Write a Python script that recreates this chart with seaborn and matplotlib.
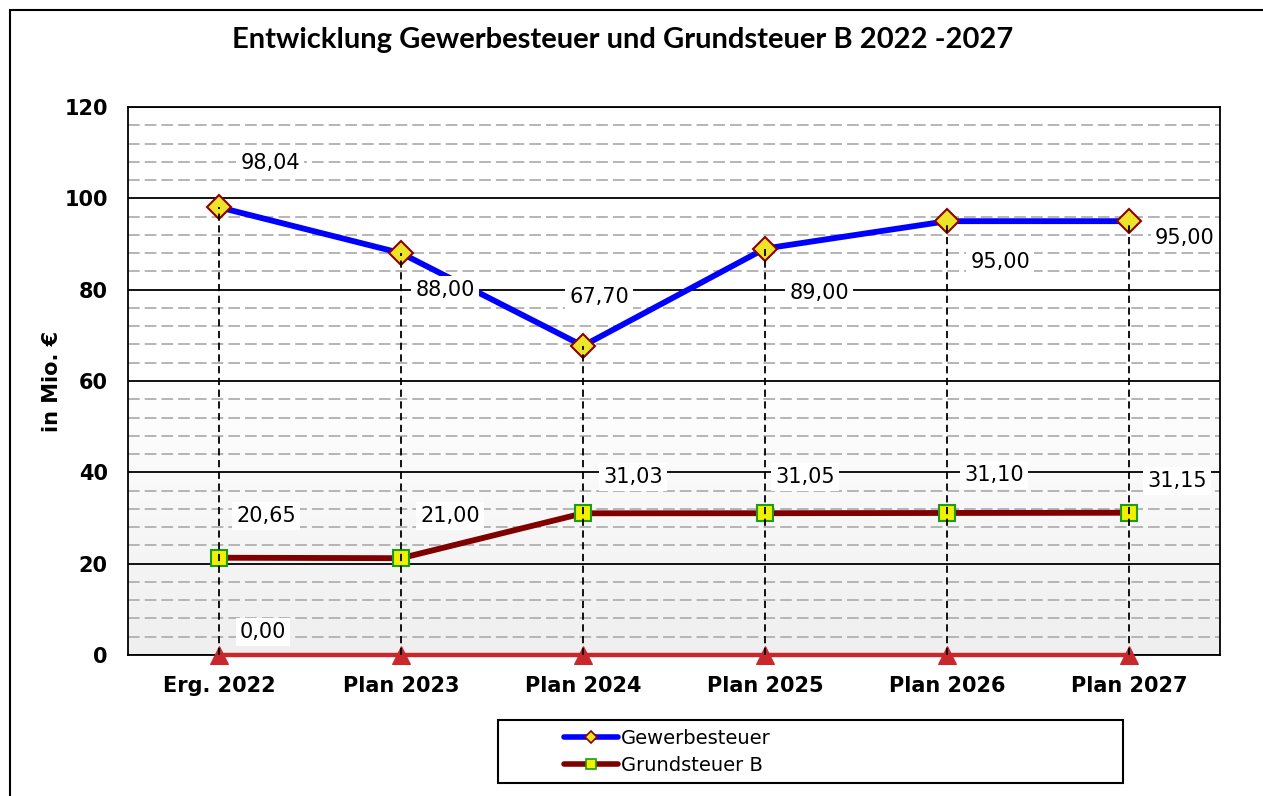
import numpy as np
import pandas as pd
import matplotlib
matplotlib.use("Agg")
import matplotlib.pyplot as plt
from matplotlib.lines import Line2D
from matplotlib.patches import Rectangle
from matplotlib.ticker import MultipleLocator
import seaborn as sns

# data
categories = ["Erg. 2022", "Plan 2023", "Plan 2024", "Plan 2025", "Plan 2026", "Plan 2027"]
gewerbesteuer = [98.04, 88.00, 67.70, 89.00, 95.00, 95.00]
grundsteuer_b = [21.30, 21.20, 31.03, 31.05, 31.10, 31.15]
grundsteuer_labels = ["20,65", "21,00", "31,03", "31,05", "31,10", "31,15"]
gewerbe_labels = ["98,04", "88,00", "67,70", "89,00", "95,00", "95,00"]
nullreihe = [0, 0, 0, 0, 0, 0]

df = pd.DataFrame({"Jahr": categories, "Gewerbesteuer": gewerbesteuer,
                   "Grundsteuer B": grundsteuer_b, "Null": nullreihe})

sns.set_style("white")
plt.rcParams["font.family"] = ["DejaVu Sans"]
plt.rcParams["text.color"] = "black"
plt.rcParams["xtick.color"] = "black"
plt.rcParams["ytick.color"] = "black"
plt.rcParams["axes.labelcolor"] = "black"

fig = plt.figure(figsize=(12.63, 7.96), dpi=100)
ax = fig.add_axes([128 / 1263, 1 - 655 / 796, 1092 / 1263, 548 / 796])

# background gradient of the plot area (white on top, light grey at the bottom)
grad = np.linspace(0, 1, 256).reshape(-1, 1)
cmap = matplotlib.colors.LinearSegmentedColormap.from_list("bg", ["#ffffff", "#ffffff", "#efefef"])
ax.imshow(grad, aspect="auto", cmap=cmap, extent=(-0.5, 5.5, 0, 120), origin="upper", zorder=0)

ax.set_xlim(-0.5, 5.5)
ax.set_ylim(0, 120)

# grid
ax.yaxis.set_major_locator(MultipleLocator(20))
ax.yaxis.set_minor_locator(MultipleLocator(4))
ax.grid(which="major", axis="y", color="black", linewidth=1.3, zorder=1)
ax.grid(which="minor", axis="y", color="#b5b5b5", linewidth=1.4, linestyle=(0, (6, 2.6)), zorder=1)
ax.set_axisbelow(True)

# drop lines
tops = [max(a, b) for a, b in zip(gewerbesteuer, grundsteuer_b)]
ax.vlines(range(len(categories)), 0, tops, colors="black", linestyles=(0, (4, 2.5)),
          linewidth=1.3, zorder=6)

sns.lineplot(data=df, x="Jahr", y="Null", ax=ax, color="#c8282c", linewidth=3.2,
             marker="^", markersize=13, markeredgecolor="#c8282c", clip_on=False, zorder=3)
sns.lineplot(data=df, x="Jahr", y="Gewerbesteuer", ax=ax, color="#0000ff", linewidth=4.2,
             marker="D", markersize=12, markerfacecolor="#ece428", markeredgecolor="#8b0000",
             markeredgewidth=1.5, zorder=4)
sns.lineplot(data=df, x="Jahr", y="Grundsteuer B", ax=ax, color="#800000", linewidth=4.2,
             marker="s", markersize=11, markerfacecolor="#f0f000", markeredgecolor="#1c9a1c",
             markeredgewidth=1.5, zorder=4)

# data labels (offsets in pixels)
box = dict(facecolor="white", edgecolor="none", pad=3)
gew_off = [(51, 44), (44, -37), (16, 49), (54, -44), (53, -41), (56, -17)]
grd_off = [(47, 42), (49, 42), (50, 36), (40, 36), (47, 38), (48, 32)]
for i, (v, t) in enumerate(zip(gewerbesteuer, gewerbe_labels)):
    ax.annotate(t, (i, v), xytext=gew_off[i], textcoords="offset pixels", ha="center",
                va="center", fontsize=15, bbox=box, zorder=7, annotation_clip=False)
for i, (v, t) in enumerate(zip(grundsteuer_b, grundsteuer_labels)):
    ax.annotate(t, (i, v), xytext=grd_off[i], textcoords="offset pixels", ha="center",
                va="center", fontsize=15, bbox=box, zorder=7, annotation_clip=False)
ax.annotate("0,00", (0, nullreihe[0]), xytext=(44, 23), textcoords="offset pixels",
            ha="center", va="center", fontsize=15, bbox=box, zorder=7)

# axes, ticks
ax.set_xticks(range(len(categories)))
ax.set_xticklabels(categories, fontsize=15, fontweight="bold")
ax.set_xticks(np.arange(-0.5, 6, 1), minor=True)
ax.tick_params(axis="x", which="major", length=0, pad=15)
ax.tick_params(axis="x", which="minor", length=6, width=1.3, color="black", direction="out")
ax.tick_params(axis="y", which="major", length=7.5, width=1.3, color="black", labelsize=15, pad=7)
ax.tick_params(axis="y", which="minor", length=0)
for lab in ax.get_yticklabels():
    lab.set_fontweight("bold")
ax.set_xlabel("")
ax.set_ylabel("in Mio. €", fontsize=15, fontweight="bold", labelpad=2)
for s in ax.spines.values():
    s.set_color("black")
    s.set_linewidth(1.3)
    s.set_visible(True)

fig.text(623 / 1263, 1 - 40 / 796, "Entwicklung Gewerbesteuer und Grundsteuer B 2022 -2027",
         ha="center", va="center", fontsize=21, fontweight="bold", family="Lato")

# outer chart frame
fig.patches.append(Rectangle((10 / 1263, -0.1), 1.2, 1 - 10 / 796 + 0.1, transform=fig.transFigure,
                             fill=False, edgecolor="black", linewidth=1.5))

# legend
fig.patches.append(Rectangle((498 / 1263, 1 - 783 / 796), 625 / 1263, 63 / 796,
                             transform=fig.transFigure, facecolor="white",
                             edgecolor="black", linewidth=1.5))
handles = [
    Line2D([], [], color="#0000ff", linewidth=4, marker="D", markersize=6,
           markerfacecolor="#ece428", markeredgecolor="#8b0000", markeredgewidth=1.2),
    Line2D([], [], color="#800000", linewidth=4, marker="s", markersize=7,
           markerfacecolor="#f0f000", markeredgecolor="#1c9a1c", markeredgewidth=1.2),
]
fig.legend(handles, ["Gewerbesteuer", "Grundsteuer B"], loc="center left",
           bbox_to_anchor=(554 / 1263, 1 - 752 / 796), frameon=False, fontsize=14,
           handlelength=2.8, handletextpad=0.15, labelspacing=0.4, borderpad=0)

fig.savefig("out.png", dpi=100)
